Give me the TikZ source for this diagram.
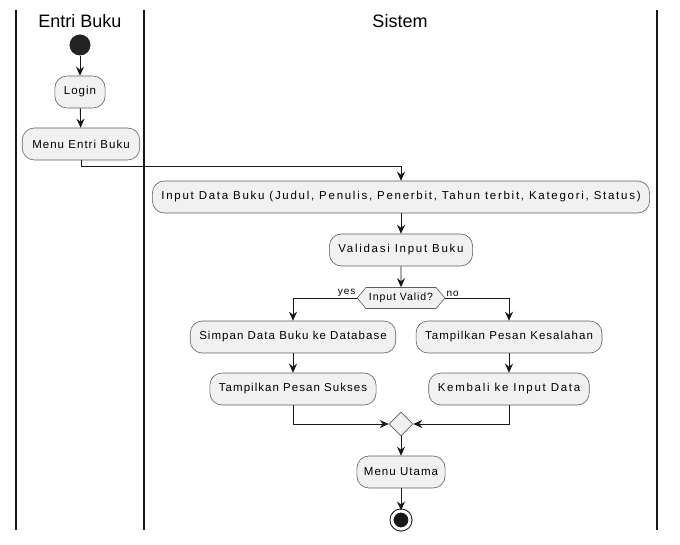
\documentclass[tikz,border=0pt]{standalone}
\usepackage{fontspec}
\usepackage{tikz}
\usetikzlibrary{shapes,shapes.geometric,shapes.symbols,arrows.meta}
\newfontfamily\lanefont{Liberation Sans}
\newfontfamily\actfont[LetterSpace=9]{Liberation Sans}
\newfontfamily\wideactfont[LetterSpace=15]{Liberation Sans}
\definecolor{ink}{HTML}{181818}
\definecolor{actfill}{HTML}{F1F1F1}
\tikzset{act/.style={rectangle,rounded corners=12pt,draw=ink!70,fill=actfill,line width=0.6pt,minimum height=32pt,inner xsep=9pt,font=\actfont\fontsize{11.5}{13}\selectfont},
  wideact/.style={act,font=\wideactfont\fontsize{11.5}{13}\selectfont},
  lane/.style={font=\lanefont\fontsize{18}{20}\selectfont},
  lbl/.style={font=\actfont\fontsize{10}{11}\selectfont,inner sep=1pt},
  flow/.style={->,draw=ink,line width=0.9pt}}

\begin{document}
\begin{tikzpicture}[x=1pt,y=-1pt,>={Stealth[length=9pt,width=8pt,inset=3pt]}]
    \useasboundingbox (0,0) rectangle (680,545);
    \draw [ink,line width=1.5pt] (16,10) -- (16,530);
    \draw [ink,line width=1.5pt] (144,10) -- (144,530);
    \draw [ink,line width=1.5pt] (657,10) -- (657,530);
    \node[lane] (l1)at (80,21) {Entri Buku};
    \node[lane] (l2)at (400,21) {Sistem};

    \node[circle,fill=ink!95,minimum size=21pt,inner sep=0pt] (s)at (80,45) {};
    \node[act] (a)at (80,92) {Login};
    \node[act,inner xsep=10pt] (b)at (81,144) {Menu Entri Buku};
    \node[wideact] (c)at (401,197) {Input Data Buku (Judul, Penulis, Penerbit, Tahun terbit, Kategori, Status)};
    \node[wideact] (d)at (401,250) {Validasi Input Buku};
    \node[signal,signal to=west and east,signal pointer angle=100,draw=ink!70,fill=actfill,line width=0.6pt,minimum height=21pt,inner xsep=3pt,inner ysep=0pt,font=\actfont\fontsize{10.5}{12}\selectfont] (v)at (401,298) {Input Valid?};
    \node[act] (e)at (293,337) {Simpan Data Buku ke Database};
    \node[act] (f)at (509,337) {Tampilkan Pesan Kesalahan};
    \node[act] (g)at (293,389) {Tampilkan Pesan Sukses};
    \node[wideact] (h)at (509,389) {Kembali ke Input Data};
    \node[diamond,draw=ink!70,fill=actfill,line width=0.6pt,minimum size=24pt,inner sep=0pt] (m)at (401,424) {};
    \node[act,inner xsep=7pt] (i)at (401,472) {Menu Utama};
    \node[circle,fill=ink,draw=ink,double=white,double distance=3pt,line width=1pt,minimum size=18pt,inner sep=0pt] (z)at (401,520) {};

    \draw [flow] (s) to [] (a);
    \draw [flow] (a) to [] (b);
    \draw [flow] (b.south) -- ++(0,6) -| (c.north);
    \draw [flow] (c) to [] (d);
    \draw [flow] (d) to [] (v);
    \draw [flow] (v.west) -| node[lbl,pos=0,above left]{yes} (e.north);
    \draw [flow] (v.east) -| node[lbl,pos=0,above right]{no} (f.north);
    \draw [flow] (e) to [] (g);
    \draw [flow] (f) to [] (h);
    \draw [flow] (g.south) |- (m.west);
    \draw [flow] (h.south) |- (m.east);
    \draw [flow] (m) to [] (i);
    \draw [flow] (i) to [] (z);
\end{tikzpicture}
\end{document}
